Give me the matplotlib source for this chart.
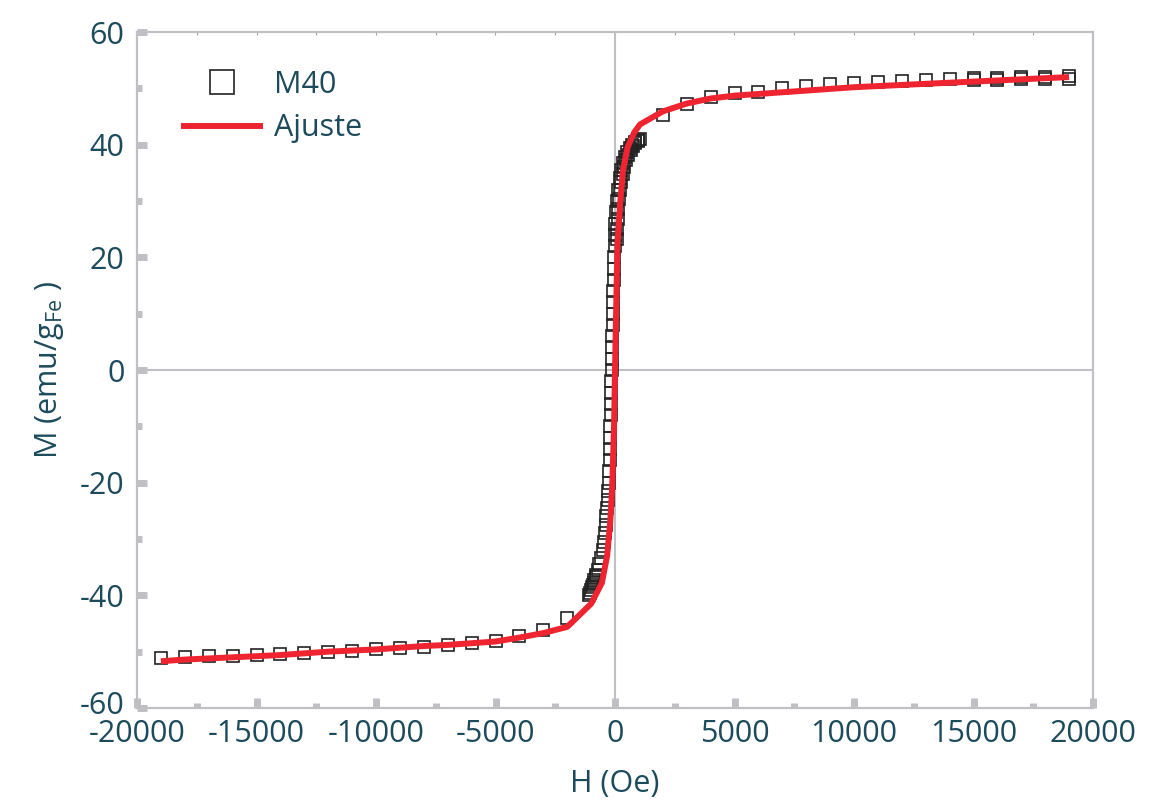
import matplotlib
matplotlib.use("Agg")
import matplotlib.pyplot as plt
from matplotlib.ticker import MultipleLocator
import matplotlib.transforms as mtransforms

# ---- data ----
# high-field measured points, positive side
H_pos = [2000, 3000, 4000, 5000, 6000, 7000, 8000, 9000, 10000, 11000, 12000,
         13000, 14000, 15000, 16000, 17000, 18000, 19000]
M_pos = [45.3, 47.3, 48.4, 49.1, 49.4, 50.0, 50.4, 50.7, 50.9, 51.1, 51.3,
         51.5, 51.6, 51.8, 51.9, 52.0, 52.1, 52.2]
# return branch at high field (overlapping squares)
H_pos_b = [15000, 16000, 17000, 18000, 19000]
M_pos_b = [51.4, 51.5, 51.6, 51.7, 51.7]
# high-field measured points, negative side
H_neg = [-19000, -18000, -17000, -16000, -15000, -14000, -13000, -12000, -11000,
         -10000, -9000, -8000, -7000, -6000, -5000, -4000, -3000, -2000]
M_neg = [-51.2, -51.0, -50.8, -50.7, -50.6, -50.4, -50.2, -50.0, -49.8,
         -49.6, -49.3, -49.1, -48.8, -48.4, -48.1, -47.2, -46.2, -44.0]
# low-field measured points, branch A
H_cen_a = [-1100, -1000, -930, -860, -790, -720, -650, -580, -510, -460, -420,
           -390, -360, -330, -300, -280, -260, -240, -225, -210, -200, -190,
           -180, -170, -160, -150, -140, -130, -120, -110, -100, -90, -80, -70,
           -60, -50, -35, -20, 0, 20, 50, 90, 140, 200, 270, 350, 430, 520, 620,
           730, 850, 980]
M_cen_a = [-40.0, -39.0, -38.2, -37.3, -36.4, -35.5, -34.5, -33.3, -32.0, -30.5,
           -29.0, -27.5, -26.0, -24.5, -23.0, -21.5, -20.0, -18.0, -16.0, -14.0,
           -12.0, -10.0, -8.0, -6.0, -4.0, -2.0, 0.0, 2.0, 4.0, 6.0, 8.0, 10.0,
           12.0, 14.0, 16.0, 18.0, 20.0, 22.0, 24.0, 26.0, 28.0, 30.0, 32.0, 34.0,
           35.5, 36.8, 37.8, 38.7, 39.4, 40.0, 40.5, 40.9]
# low-field measured points, branch B
H_cen_b = [1050, 950, 850, 750, 650, 560, 470, 390, 320, 260, 210, 170, 140,
           115, 95, 75, -1050, -950, -880, -800]
M_cen_b = [41.0, 40.7, 40.3, 39.7, 39.0, 38.2, 37.2, 36.0, 34.8, 33.4, 32.0,
           30.3, 28.6, 26.8, 25.0, 23.2, -39.5, -38.6, -37.8, -36.8]

# fitted curve
H_fit = [-19000, -18000, -17000, -16000, -15000, -14000, -13000, -12000, -11000,
         -10000, -9000, -8000, -7000, -6000, -5000, -4000, -3000, -2000, -1000,
         -550, -330, -200, -120, -40, 0, 100, 215, 330, 530, 810, 1050, 2000,
         3000, 4000, 5000, 6000, 7000, 8000, 9000, 10000, 11000, 12000, 13000,
         14000, 15000, 16000, 17000, 18000, 19000]
M_fit = [-51.7, -51.4, -51.2, -51.0, -50.8, -50.6, -50.3, -50.0, -49.8,
         -49.6, -49.3, -49.0, -48.8, -48.5, -48.2, -47.5, -46.7, -45.6, -41.5,
         -37.8, -33.0, -27.0, -21.0, -10.0, 0.0, 22.0, 29.6, 35.3, 39.6, 42.2, 43.6,
         45.9, 47.3, 48.2, 48.7, 49.0, 49.3, 49.6, 49.9, 50.2, 50.4, 50.6, 50.8,
         51.0, 51.2, 51.4, 51.6, 51.8, 52.0]

x_ticks = [-20000, -15000, -10000, -5000, 0, 5000, 10000, 15000, 20000]
y_ticks = [-60, -40, -20, 0, 20, 40, 60]

TXT = "#1d4b5c"
GREY = "#c0c0c4"
RED = "#ee2530"
FS = 22

plt.rcParams['font.family'] = ['Open Sans', 'DejaVu Sans']
plt.rcParams['axes.unicode_minus'] = False
plt.rcParams['mathtext.fontset'] = 'custom'
plt.rcParams['mathtext.rm'] = 'Open Sans'

fig = plt.figure(figsize=(11.53, 8.09), dpi=100)
ax = fig.add_axes([137/1153, 1 - 708/809, (1093-137)/1153, (708-32)/809])

ax.axhline(0, color=GREY, lw=1.5, zorder=1)
ax.axvline(0, color=GREY, lw=1.5, zorder=1)

mk = dict(marker='s', ms=8, mfc='none', mec='#222222', mew=1.2, ls='none', zorder=3)
ax.plot(H_neg, M_neg, **mk)
ax.plot(H_cen_a, M_cen_a, **mk)
ax.plot(H_cen_b, M_cen_b, **mk)
ax.plot(H_pos_b, M_pos_b, **mk)
ax.plot(H_pos, M_pos, label='M40', **mk)
ax.plot(H_fit, M_fit, color=RED, lw=4.3, label='Ajuste', zorder=4,
        solid_joinstyle='round', solid_capstyle='butt')

ax.set_xlim(-20000, 20000)
ax.set_ylim(-60, 60)
ax.set_xticks(x_ticks)
ax.set_yticks(y_ticks)
ax.xaxis.set_minor_locator(MultipleLocator(2500))
ax.yaxis.set_minor_locator(MultipleLocator(10))

for s in ax.spines.values():
    s.set_color(GREY)
    s.set_linewidth(1.6)

ax.tick_params(axis='both', which='major', direction='in', length=7.2, width=5,
               color=GREY, labelcolor=TXT, labelsize=FS, pad=9,
               top=False, right=False)
ax.tick_params(axis='both', which='minor', direction='in', length=3.6, width=5,
               color=GREY, top=False, right=False)
ax.tick_params(axis='x', which='major', pad=8)

# nudge the lowest y label up a little so it does not collide with -20000
fig.canvas.draw()
ylabels = ax.get_yticklabels()
ylabels[0].set_transform(ylabels[0].get_transform() +
                         mtransforms.ScaledTranslation(0, 5/100, fig.dpi_scale_trans))

# thin ticks on top spine
ax_top = ax.secondary_xaxis('top')
ax_top.set_xticks([-17500, -15000, -12500, -10000, -7500, -5000, -2500, 0, 2500,
                   5000, 7500, 10000, 12500, 15000, 17500])
ax_top.tick_params(direction='in', length=2.5, width=0.8, color='#a0a0a4',
                   labeltop=False)
ax_top.spines['top'].set_visible(False)

ax.set_xlabel('H (Oe)', fontsize=FS, color=TXT, labelpad=14)
ax.set_ylabel(r'M (emu/g$_{\mathrm{Fe}}$ )', fontsize=FS, color=TXT, labelpad=10)

leg = ax.legend(loc='upper left', bbox_to_anchor=(0.017, 0.985), frameon=False,
                fontsize=FS, markerscale=2.2, handlelength=2.7, handletextpad=0.35,
                labelspacing=0.45, labelcolor=TXT)

fig.savefig('out.png', dpi=100)
